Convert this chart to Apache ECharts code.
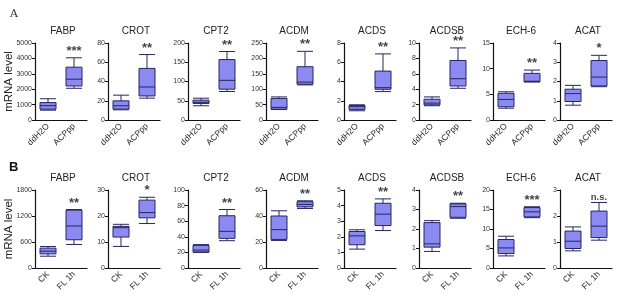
<!DOCTYPE html>
<html>
<head>
<meta charset="utf-8">
<script src="https://cdn.jsdelivr.net/npm/echarts@6/dist/echarts.min.js"></script>
<style>
  html, body { margin: 0; padding: 0; background: #ffffff; }
  #chart { width: 617px; height: 304px; }
</style>
</head>
<body>
<div id="chart"></div>
<script>
// gene panels, same order in both rows
const genes = ['FABP', 'CROT', 'CPT2', 'ACDM', 'ACDS', 'ACDSB', 'ECH-6', 'ACAT'];

// row A: ddH2O vs ACPpp
const catsA = ['ddH2O', 'ACPpp'];
const yMaxA = [5000, 80, 200, 250, 8, 10, 15, 4];
const stepA = [1000, 20, 50, 50, 2, 2, 5, 1];
const sigA = ['***', '**', '**', '**', '**', '**', '**', '*'];
// [min, Q1, median, Q3, max] per group
const boxA = [
  [[640, 700, 930, 1130, 1380], [2060, 2210, 2650, 3430, 4040]],
  [[10.6, 11.3, 14.8, 19.9, 25.8], [22.7, 25, 34.3, 53.6, 68]],
  [[37, 43, 46, 51.5, 56.6], [74, 80, 103, 157, 178]],
  [[34, 35, 41, 70, 75], [114, 116, 123, 173, 223]],
  [[0.96, 1.1, 1.38, 1.5, 1.58], [2.95, 3.19, 3.36, 5.08, 6.87]],
  [[1.85, 1.97, 2.19, 2.7, 3.0], [4.12, 4.42, 5.36, 7.73, 9.36]],
  [[2.3, 2.58, 4.0, 5.2, 5.5], [7.4, 7.47, 7.55, 9.08, 9.72]],
  [[0.77, 0.96, 1.37, 1.6, 1.8], [1.73, 1.77, 2.23, 3.09, 3.36]]
];

// row B: CK vs FL 1h
const catsB = ['CK', 'FL 1h'];
const yMaxB = [1800, 30, 100, 60, 5, 4, 20, 3];
const stepB = [600, 10, 20, 20, 1, 1, 5, 1];
const sigB = ['**', '*', '**', '**', '**', '**', '***', 'n.s.'];
const boxB = [
  [[272, 326, 388, 458, 497], [543, 652, 970, 1334, 1350]],
  [[8.3, 11.9, 15.5, 16.0, 16.8], [17.1, 19.3, 21.3, 26.1, 27.2]],
  [[20, 20.5, 23, 29, 30], [35, 38, 47, 67, 75]],
  [[21.2, 22, 29.5, 40, 44], [45.8, 47, 48.9, 51, 51.7]],
  [[1.21, 1.49, 2.06, 2.34, 2.45], [2.4, 2.72, 3.45, 4.15, 4.43]],
  [[0.85, 1.07, 1.24, 2.33, 2.43], [2.55, 2.6, 3.15, 3.29, 3.32]],
  [[3.1, 3.7, 5.15, 7.3, 8.15], [12.9, 13.1, 14.4, 15.5, 15.7]],
  [[0.66, 0.75, 1.03, 1.42, 1.58], [1.07, 1.17, 1.61, 2.19, 2.52]]
];

const lefts = [35, 108, 188, 266, 344, 419, 493, 560];
const plotW = 52;
const font = 'Liberation Sans, Arial, sans-serif';

const grids = [], xAxes = [], yAxes = [], series = [], titles = [];

const addRow = (top, height, cats, yMax, step, sig, boxes, nameGap) => {
  genes.forEach((g, i) => {
    const idx = grids.length;
    grids.push({ left: lefts[i], top: top, width: plotW, height: height });
    titles.push({
      text: g, left: lefts[i] + plotW / 2 - 3, top: top - 22, textAlign: 'center',
      textStyle: { fontFamily: font, fontSize: 10, fontWeight: 'normal', color: '#222' }
    });
    xAxes.push({
      type: 'category', gridIndex: idx, data: cats,
      axisLine: { lineStyle: { color: '#111', width: 1.2 } },
      axisTick: { alignWithLabel: true, length: 3, lineStyle: { color: '#111' } },
      axisLabel: { rotate: 45, fontFamily: font, fontSize: 8.5, color: '#222', margin: 5, interval: 0 }
    });
    yAxes.push({
      type: 'value', gridIndex: idx, min: 0, max: yMax[i], interval: step[i],
      splitLine: { show: false },
      axisLine: { show: true, lineStyle: { color: '#111', width: 1.2 } },
      axisTick: { show: true, length: 3, lineStyle: { color: '#111' } },
      axisLabel: { fontFamily: font, fontSize: 7, color: '#333', margin: 3, formatter: v => String(v) },
      name: i === 0 ? 'mRNA level' : '',
      nameLocation: 'middle', nameGap: nameGap, nameRotate: 90, nameMoveOverlap: false,
      nameTextStyle: { fontFamily: font, fontSize: 11.5, color: '#222' }
    });
    series.push({
      type: 'boxplot', xAxisIndex: idx, yAxisIndex: idx,
      data: boxes[i], boxWidth: [16, 16],
      itemStyle: { color: '#8a8af0', borderColor: '#26265e', borderWidth: 1 },
      emphasis: { disabled: true }, silent: true
    });
    series.push({
      type: 'scatter', xAxisIndex: idx, yAxisIndex: idx,
      symbolSize: 0, silent: true,
      data: [[1, boxes[i][1][4]]],
      label: {
        show: true, position: 'top', distance: 0,
        formatter: () => sig[i],
        fontFamily: font, fontSize: sig[i] === 'n.s.' ? 9.5 : 13, fontWeight: 'bold', color: '#111'
      }
    });
  });
};

addRow(43, 77, catsA, yMaxA, stepA, sigA, boxA, 20);
addRow(190, 78, catsB, yMaxB, stepB, sigB, boxB, 20);

titles.push({ text: 'A', left: 5, top: 4, textStyle: { fontFamily: 'DejaVu Serif, serif', fontSize: 11, fontWeight: 'normal', color: '#333' } });
titles.push({ text: 'B', left: 4, top: 156, textStyle: { fontFamily: font, fontSize: 13, fontWeight: 'bold', color: '#111' } });

const chart = echarts.init(document.getElementById('chart'));
chart.setOption({
  animation: false,
  backgroundColor: '#ffffff',
  title: titles,
  grid: grids,
  xAxis: xAxes,
  yAxis: yAxes,
  series: series
});
</script>
</body>
</html>
